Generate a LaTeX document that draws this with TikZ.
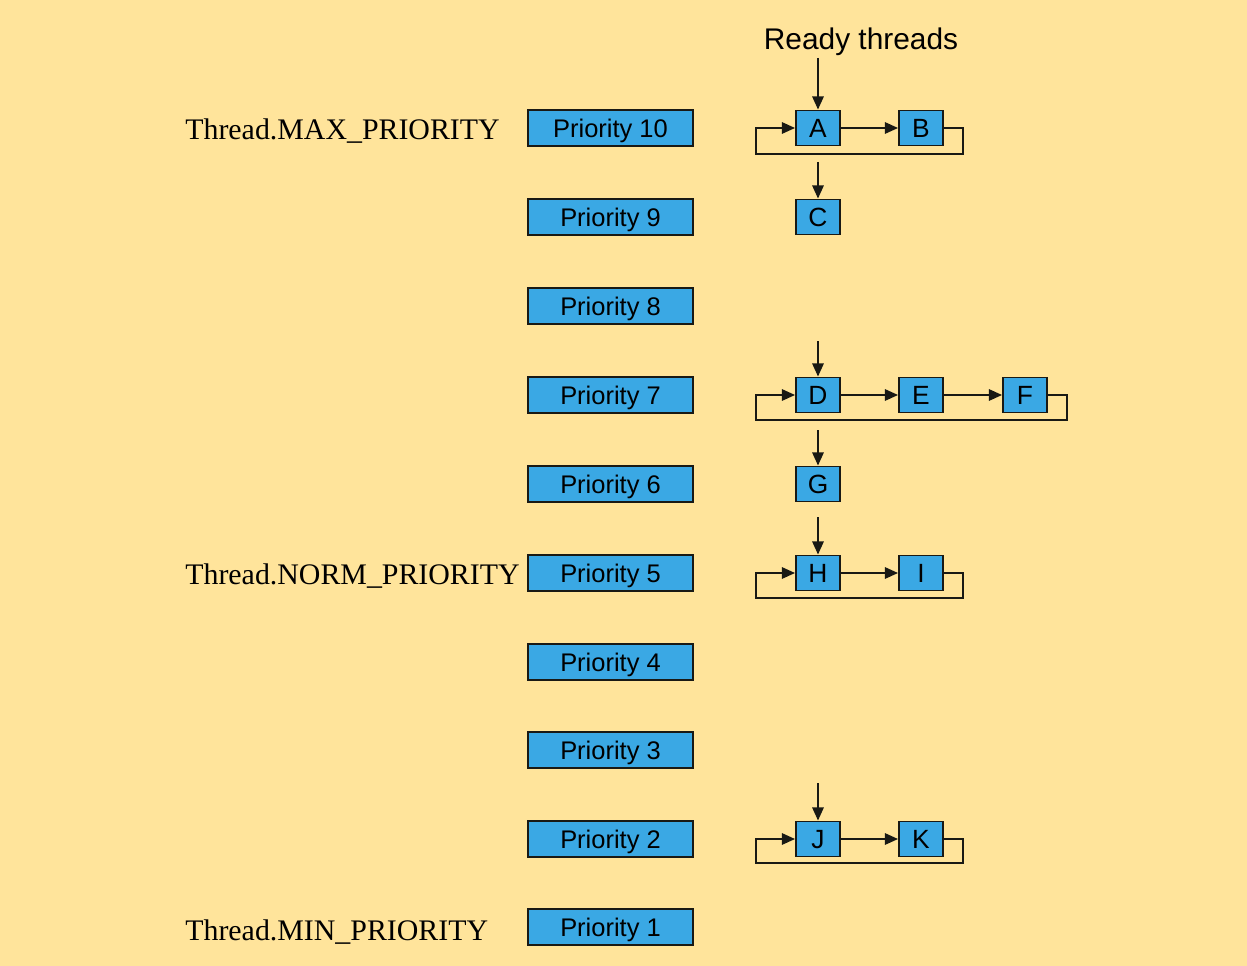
\documentclass[tikz,border=0pt]{standalone}
\usepackage{fontspec}
\setmainfont{Liberation Serif}
\setsansfont{Liberation Sans}
\usetikzlibrary{arrows.meta}
\definecolor{bg}{RGB}{255,228,155}
\definecolor{boxblue}{RGB}{58,168,228}
\definecolor{edge}{RGB}{25,25,20}
\tikzset{
  prio/.style={draw=edge, line width=1.1pt, fill=boxblue, minimum width=3.3cm, minimum height=0.72cm, inner sep=0pt, text height=10.4pt, text depth=0pt, font=\sffamily\fontsize{14.5}{14.5}\selectfont},
  thr/.style={draw=edge, line width=1.1pt, fill=boxblue, minimum width=0.88cm, minimum height=0.7cm, inner sep=0pt, text height=10.8pt, text depth=0pt, font=\sffamily\fontsize{15}{15}\selectfont},
  lab/.style={anchor=west, inner sep=0pt, font=\rmfamily\fontsize{17}{17}\selectfont},
  arr/.style={draw=edge, line width=1.1pt, -{Triangle[length=7.5pt,width=6.5pt]}}
}
\begin{document}
\begin{tikzpicture}[x=0.02cm, y=-0.02cm]
\useasboundingbox (0,0) rectangle (1247,966);
\fill[bg] (0,0) rectangle (1247,966);

% priority boxes
\node[prio] (p10) at (610.5,128) {Priority 10};
\node[prio] (p9)  at (610.5,217) {Priority 9};
\node[prio] (p8)  at (610.5,306) {Priority 8};
\node[prio] (p7)  at (610.5,395) {Priority 7};
\node[prio] (p6)  at (610.5,484) {Priority 6};
\node[prio] (p5)  at (610.5,573) {Priority 5};
\node[prio] (p4)  at (610.5,662) {Priority 4};
\node[prio] (p3)  at (610.5,750) {Priority 3};
\node[prio] (p2)  at (610.5,839) {Priority 2};
\node[prio] (p1)  at (610.5,927) {Priority 1};

% labels
\node[lab] (lmax)  at (185,131) {Thread.MAX\_PRIORITY};
\node[lab] (lnorm) at (185,576) {Thread.NORM\_PRIORITY};
\node[lab] (lmin)  at (185,932) {Thread.MIN\_PRIORITY};
\node[inner sep=0pt, font=\sffamily\fontsize{17}{17}\selectfont] (ready) at (861,42) {Ready threads};

% thread boxes
\node[thr] (A) at (818,128) {A};
\node[thr] (B) at (921,128) {B};
\node[thr] (C) at (818,217) {C};
\node[thr] (D) at (818,395) {D};
\node[thr] (E) at (921,395) {E};
\node[thr] (F) at (1025,395) {F};
\node[thr] (G) at (818,484) {G};
\node[thr] (H) at (818,573) {H};
\node[thr] (I) at (921,573) {I};
\node[thr] (J) at (818,839) {J};
\node[thr] (K) at (921,839) {K};

% entry arrows
\coordinate (sA) at (818,58);
\coordinate (sC) at (818,162);
\coordinate (sD) at (818,341);
\coordinate (sG) at (818,430);
\coordinate (sH) at (818,517);
\coordinate (sJ) at (818,783);
\draw[arr] (sA) -- (A.north);
\draw[arr] (sC) -- (C.north);
\draw[arr] (sD) -- (D.north);
\draw[arr] (sG) -- (G.north);
\draw[arr] (sH) -- (H.north);
\draw[arr] (sJ) -- (J.north);

% chains
\draw[arr] (A.east) -- (B.west);
\draw[arr] (D.east) -- (E.west);
\draw[arr] (E.east) -- (F.west);
\draw[arr] (H.east) -- (I.west);
\draw[arr] (J.east) -- (K.west);

% loops
\coordinate (rA) at (963,154); \coordinate (lA) at (756,154);
\coordinate (rD) at (1067,420); \coordinate (lD) at (756,420);
\coordinate (rH) at (963,598); \coordinate (lH) at (756,598);
\coordinate (rJ) at (963,863); \coordinate (lJ) at (756,863);
\draw[arr] (B.east) -| (rA) -- (lA) |- (A.west);
\draw[arr] (F.east) -| (rD) -- (lD) |- (D.west);
\draw[arr] (I.east) -| (rH) -- (lH) |- (H.west);
\draw[arr] (K.east) -| (rJ) -- (lJ) |- (J.west);
\end{tikzpicture}
\end{document}
